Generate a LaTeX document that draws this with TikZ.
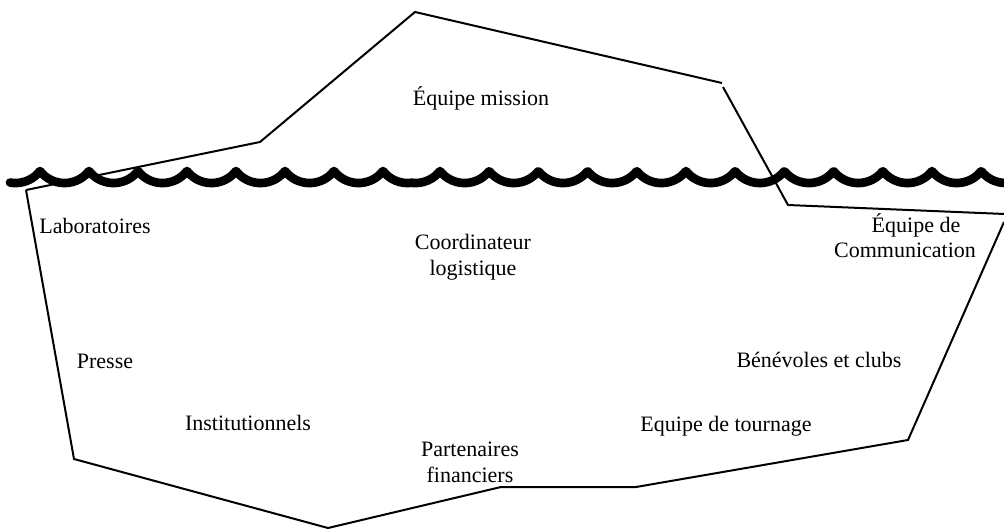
\documentclass[tikz,border=0pt]{standalone}
\usepackage{fontspec}
\setmainfont{Liberation Serif}
\begin{document}
\begin{tikzpicture}[x=0.75pt,y=-0.75pt,
  edge/.style={line width=1.5pt,line join=miter},
  wave/.style={line width=6.5pt,line cap=round,line join=round},
  lbl/.style={font=\fontsize{16.5}{19.5}\selectfont,inner sep=0pt,align=center}]
\useasboundingbox (0,0) rectangle (1004,529);
% outline corners
\coordinate (a) at (26,190);
\coordinate (b) at (260,142);
\coordinate (c) at (415,12);
\coordinate (d) at (722,83);
\coordinate (d2) at (723,87);
\coordinate (e) at (788,205);
\coordinate (f) at (1005,214);
\coordinate (f2) at (1004,222);
\coordinate (g) at (908,440);
\coordinate (h) at (636,487);
\coordinate (i) at (501,487);
\coordinate (j) at (328,528);
\coordinate (k) at (74,459);
\draw[edge] (a) -- (b) -- (c) -- (d);
\draw[edge] (d2) -- (e) -- (f);
\draw[edge] (f2) -- (g) -- (h) -- (i) -- (j) -- (k) -- (a);
% waterline
\draw[wave] plot[domain=10:412,samples=403] (\x,{152+sqrt(961-(mod(\x+9,49)-24.5)^2)});
\draw[wave] plot[domain=412:1010,samples=599] (\x,{151.7+sqrt(979.7-(mod(\x-390.8,49.2)-24.6)^2)});
% labels
\node[lbl] (mission) at (481,98) {Équipe mission};
\node[lbl] (labo) at (95,226) {Laboratoires};
\node[lbl] (coord) at (473,257) {Coordinateur\\logistique};
\node[lbl] (com1) at (916,225) {Équipe de};
\node[lbl] (com2) at (905,250) {Communication};
\node[lbl] (presse) at (105,361) {Presse};
\node[lbl] (benev) at (819,360) {Bénévoles et clubs};
\node[lbl] (instit) at (248,423) {Institutionnels};
\node[lbl] (tourn) at (726,426) {Equipe de tournage};
\node[lbl] (part) at (470,462) {Partenaires\\financiers};
\end{tikzpicture}
\end{document}
